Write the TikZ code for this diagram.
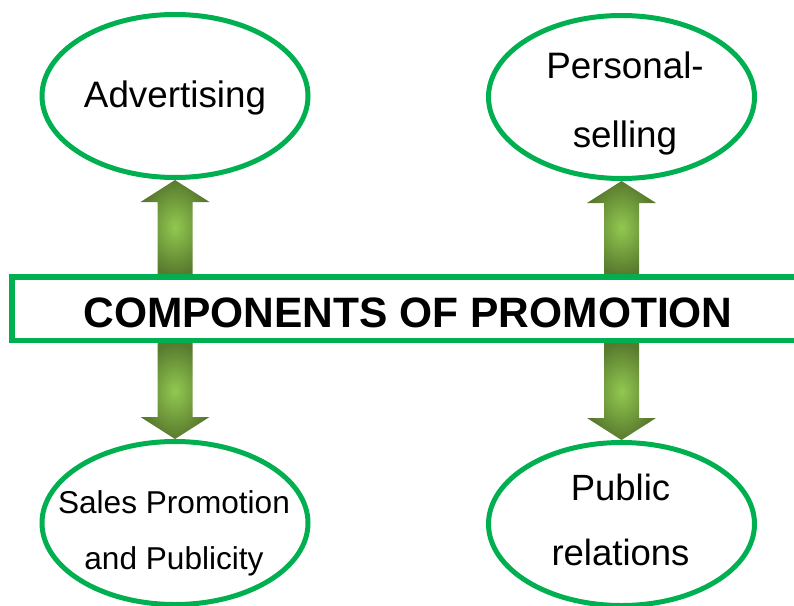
\documentclass[tikz,border=0pt]{standalone}
\usepackage{fontspec}
\setmainfont{Liberation Sans}
\usetikzlibrary{shapes.geometric, calc}

\definecolor{linegreen}{RGB}{0,176,80}
\definecolor{arrowlight}{RGB}{146,200,80}
\definecolor{arrowdark}{RGB}{88,122,46}

\tikzset{
  oval/.style={draw=linegreen,line width=5pt,shape=ellipse,minimum width=266pt,minimum height=163pt},
  lbl/.style={align=center,inner sep=0pt},
  fatarrow/.style={inner color=arrowlight,outer color=arrowdark,
    to path={($(\tikztotarget)!22pt!(\tikztostart)$) coordinate (hb)
      ($(\tikztostart)!17.5pt!90:(\tikztotarget)$)
      -- ($(hb)!17.5pt!90:(\tikztotarget)$)
      -- ($(hb)!34.5pt!90:(\tikztotarget)$)
      -- (\tikztotarget)
      -- ($(hb)!34.5pt!-90:(\tikztotarget)$)
      -- ($(hb)!17.5pt!-90:(\tikztotarget)$)
      -- ($(\tikztostart)!17.5pt!-90:(\tikztotarget)$) -- cycle}}
}

\begin{document}
\begin{tikzpicture}[x=1pt,y=-1pt]
            \clip (0,0) rectangle (794,605);

            \node[oval](adv)at(175,96){};
            \node[oval](pers)at(621.5,97){};
            \node[oval](sales)at(175,523){};
            \node[oval](pub)at(621.5,524){};

            \node[lbl,font=\fontsize{36.8}{69}\selectfont](advt)at(175,98){Advertising};
            \node[lbl,font=\fontsize{36.8}{69}\selectfont](perst)at(625,103){Personal-\\selling};
            \node[lbl,font=\fontsize{31.6}{56}\selectfont](salest)at(174,533){Sales Promotion\\and Publicity};
            \node[lbl,font=\fontsize{36.5}{65}\selectfont](pubt)at(620.5,520){Public\\relations};

            \node[draw=linegreen,line width=5.5pt,shape=rectangle,minimum width=792pt,minimum height=63.5pt,inner sep=0pt,text height=38pt,font=\fontsize{42.5}{50}\selectfont\bfseries](comp)at(408,308.7){COMPONENTS OF PROMOTION};

            \coordinate(b1)at(adv.south |- comp.north);
            \coordinate(b2)at(pers.south |- comp.north);
            \coordinate(b3)at(sales.north |- comp.south);
            \coordinate(b4)at(pub.north |- comp.south);

            \shade[fatarrow](b1)to(adv.south);
            \shade[fatarrow](b2)to(pers.south);
            \shade[fatarrow](b3)to(sales.north);
            \shade[fatarrow](b4)to(pub.north);
\end{tikzpicture}
\end{document}
